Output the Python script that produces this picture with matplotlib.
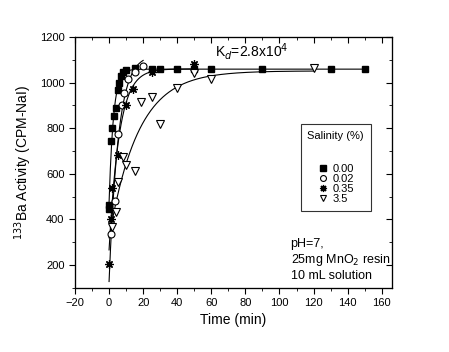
import numpy as np
import matplotlib.pyplot as plt
from matplotlib.ticker import MultipleLocator

plt.rcParams['font.family'] = ['Liberation Sans', 'DejaVu Sans']

# Data: time (min) and 133Ba activity (CPM-NaI)
t_000 = [0, 0, 1, 2, 3, 4, 5, 6, 7, 8, 10, 15, 25, 30, 40, 50, 60, 90, 130, 150]
v_000 = [448, 462, 743, 801, 852, 888, 968, 999, 1031, 1045, 1055, 1065,
         1058, 1060, 1060, 1060, 1060, 1058, 1058, 1058]

t_002 = [1, 3.5, 5, 7.5, 9, 11, 15, 20]
v_002 = [335, 480, 775, 900, 955, 1015, 1048, 1073]

t_035 = [0, 1, 1.5, 5, 10, 14, 25, 50]
v_035 = [205, 400, 536, 681, 900, 973, 1045, 1082]

t_35 = [2, 4, 5, 8, 10, 15, 19, 25, 30, 40, 50, 60, 120]
v_35 = [365, 433, 565, 674, 638, 613, 915, 937, 817, 978, 1042, 1017, 1065]

labels = ["0.00", "0.02", "0.35", "3.5"]


def fit_first_order(t, v):
    # y = A + B*exp(-k t), grid over k with linear least squares for A, B
    t = np.asarray(t, float)
    v = np.asarray(v, float)
    best = None
    for k in np.linspace(0.01, 1.5, 1500):
        M = np.column_stack([np.ones_like(t), np.exp(-k * t)])
        coef, *_ = np.linalg.lstsq(M, v, rcond=None)
        err = np.sum((M @ coef - v) ** 2)
        if best is None or err < best[0]:
            best = (err, k, coef)
    return best[1], best[2]


fig = plt.figure(figsize=(4.49, 3.52), dpi=100)
ax = fig.add_axes([0.167, 0.182, 0.706, 0.713])

series = [
    (t_000, v_000, dict(marker='s', mfc='black', mec='black', ms=4.5)),
    (t_002, v_002, dict(marker='o', mfc='white', mec='black', ms=5, mew=0.8)),
    (t_035, v_035, dict(marker=(8, 2, 0), mfc='black', mec='black', ms=6, mew=0.9)),
    (t_35, v_35, dict(marker='v', mfc='white', mec='black', ms=5.5, mew=0.8)),
]

for (t, v, style), lab in zip(series, labels):
    k, (A, B) = fit_first_order(t, v)
    tt = np.linspace(0, max(t), 400)
    ax.plot(tt, A + B * np.exp(-k * tt), color='black', lw=0.8, zorder=1)
    ax.plot(t, v, ls='none', label=lab, zorder=2, **style)

ax.set_xlim(-20, 166)
ax.set_ylim(100, 1200)
ax.xaxis.set_major_locator(MultipleLocator(20))
ax.xaxis.set_minor_locator(MultipleLocator(10))
ax.yaxis.set_major_locator(MultipleLocator(200))
ax.yaxis.set_minor_locator(MultipleLocator(100))
ax.tick_params(which='both', direction='out', labelsize=8)
ax.tick_params(which='major', length=4)
ax.tick_params(which='minor', length=2)

# mirrored inward ticks on top and right
axt = ax.twiny()
axt.set_xlim(ax.get_xlim())
axt.xaxis.set_major_locator(MultipleLocator(20))
axt.xaxis.set_minor_locator(MultipleLocator(10))
axt.tick_params(which='both', direction='in', labeltop=False)
axt.tick_params(which='major', length=4)
axt.tick_params(which='minor', length=2)
axr = ax.twinx()
axr.set_ylim(ax.get_ylim())
axr.yaxis.set_major_locator(MultipleLocator(200))
axr.yaxis.set_minor_locator(MultipleLocator(100))
axr.tick_params(which='both', direction='in', labelright=False)
axr.tick_params(which='major', length=4)
axr.tick_params(which='minor', length=2)

ax.set_xlabel("Time (min)", fontsize=10, labelpad=3)
ax.set_ylabel("$^{133}$Ba Activity (CPM-NaI)", fontsize=10, labelpad=4)

ax.text(62, 1112, "K$_d$=2.8x10$^4$", fontsize=10)
ax.text(0.68, 0.20, "pH=7,\n25mg MnO$_2$ resin\n10 mL solution",
        transform=ax.transAxes, fontsize=9, va='top', ha='left',
        linespacing=1.2)

leg = ax.legend(title="Salinity (%)\n\n", loc='upper left',
                bbox_to_anchor=(0.712, 0.653), borderaxespad=0,
                fontsize=8, title_fontsize=8,
                frameon=True, fancybox=False, edgecolor='black',
                handletextpad=0.3, handlelength=1.0, borderpad=0.6,
                labelspacing=0.0, markerscale=0.85)
leg.get_frame().set_linewidth(0.8)
leg.set_zorder(5)

fig.savefig("out.png", dpi=100)
